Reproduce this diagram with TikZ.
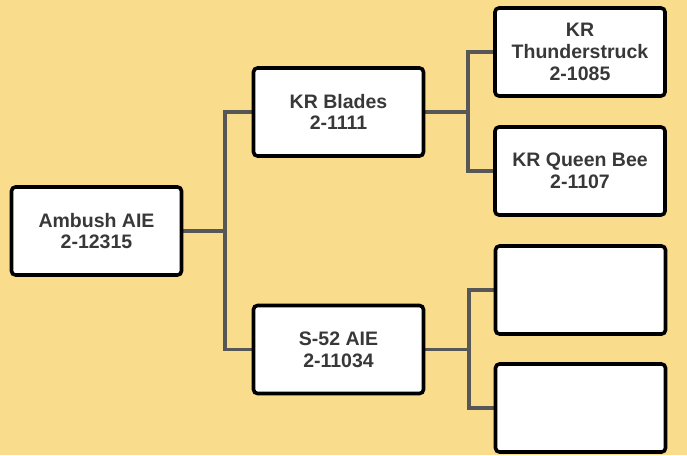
\documentclass[tikz,border=0pt]{standalone}
\usepackage{fontspec}
\setmainfont{Liberation Sans}
\pgfdeclarelayer{bg}
\pgfdeclarelayer{links}
\pgfsetlayers{bg,links,main}
\begin{document}
\begin{tikzpicture}[x=1pt,y=-1pt,
  box/.style={draw=black,line width=3.6pt,fill=white,rounded corners=4pt,
    minimum width=170pt,minimum height=88pt,inner sep=0pt,align=center,
    font=\fontsize{19.5}{21.7}\selectfont\bfseries,text=black!78},
  link/.style={draw=black!66,line width=3.2pt}]
\begin{pgfonlayer}{bg}
\fill[fill={rgb,255:red,250;green,220;blue,141}] (0,0) rectangle (687,455);
\end{pgfonlayer}
\useasboundingbox (0,0) rectangle (687,455);
\node[box] (amb) at (96.5,231) {Ambush AIE\\2-12315};
\node[box] (kb) at (338.5,112) {KR Blades\\2-1111};
\node[box] (s52) at (338.5,349.5) {S-52 AIE\\2-11034};
\node[box] (kt) at (580,52) {KR\\Thunderstruck\\2-1085};
\node[box] (kq) at (580,171) {KR Queen Bee\\2-1107};
\node[box] (e1) at (580.5,290) {};
\node[box] (e2) at (580.5,408) {};
\coordinate (j1) at (225,231);
\coordinate (j2) at (468,112);
\coordinate (j3) at (469,349.5);
\begin{pgfonlayer}{links}
\draw[link] (amb.east) -- (j1);
\draw[link] (j1) |- (kb.west);
\draw[link] (j1) |- (s52.west);
\draw[link] (kb.east) -- (j2);
\draw[link] (j2) |- (kt.west);
\draw[link] (j2) |- (kq.west);
\draw[link] (s52.east) -- (j3);
\draw[link] (j3) |- (e1.west);
\draw[link] (j3) |- (e2.west);
\end{pgfonlayer}
\end{tikzpicture}
\end{document}
